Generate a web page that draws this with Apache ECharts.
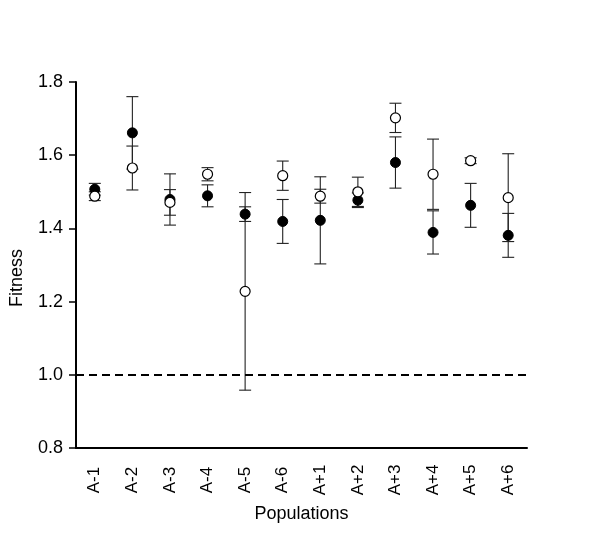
<!DOCTYPE html>
<html><head><meta charset="utf-8">
<script src="https://cdn.jsdelivr.net/npm/echarts@6/dist/echarts.min.js"></script>
<style>html,body{margin:0;padding:0;background:#fff}#c{width:600px;height:547px}</style>
</head><body><div id="c"></div>
<script>
const categories = ['A-1','A-2','A-3','A-4','A-5','A-6','A+1','A+2','A+3','A+4','A+5','A+6'];
const filledMean = [1.507,1.661,1.479,1.489,1.439,1.419,1.422,1.477,1.580,1.389,1.463,1.381];
const filledErr  = [0.016,0.099,0.070,0.030,0.020,0.060,0.119,0.020,0.070,0.059,0.060,0.060];
const openMean   = [1.488,1.565,1.471,1.548,1.228,1.544,1.488,1.500,1.702,1.548,1.585,1.484];
const openErr    = [0.012,0.060,0.035,0.018,0.270,0.040,0.019,0.040,0.040,0.096,0.008,0.120];
const yTicks = [0.8,1.0,1.2,1.4,1.6,1.8];
const refValue = 1.0;

const font = 'Liberation Sans, Arial, Helvetica, sans-serif';
function errData(mean, err){ return mean.map((m,i)=>[i,m,err[i]]); }
function renderErr(params, api){
  const i = api.value(0), m = api.value(1), e = api.value(2);
  const top = api.coord([i, m+e]);
  const bot = api.coord([i, m-e]);
  const hw = 6;
  const st = {stroke:'#222', lineWidth:1.1};
  return {type:'group', children:[
    {type:'line', shape:{x1:top[0],y1:top[1],x2:bot[0],y2:bot[1]}, style:st},
    {type:'line', shape:{x1:top[0]-hw,y1:top[1],x2:top[0]+hw,y2:top[1]}, style:st},
    {type:'line', shape:{x1:bot[0]-hw,y1:bot[1],x2:bot[0]+hw,y2:bot[1]}, style:st}
  ]};
}
const chart = echarts.init(document.getElementById('c'), null, {renderer:'canvas'});
chart.setOption({
  animation:false,
  backgroundColor:'#fff',
  grid:{left:72, right:73, top:82, bottom:99, containLabel:false},
  xAxis:{
    type:'category', data:categories, boundaryGap:true,
    name:'Populations', nameLocation:'middle', nameGap:57,
    nameTextStyle:{fontFamily:font, fontSize:18, color:'#000'},
    axisLine:{lineStyle:{color:'#000', width:2}},
    axisTick:{alignWithLabel:true, length:8, lineStyle:{color:'#000', width:2}},
    axisLabel:{rotate:90, align:'center', verticalAlign:'middle', fontFamily:font, fontSize:17, color:'#000', margin:32},
    splitLine:{show:false}
  },
  yAxis:{
    type:'value', min:yTicks[0], max:yTicks[yTicks.length-1], interval:0.2,
    name:'Fitness', nameLocation:'middle', nameGap:50, nameRotate:90,
    nameTextStyle:{fontFamily:font, fontSize:18, color:'#000', padding:[0,26,0,0]},
    axisLine:{show:true, lineStyle:{color:'#000', width:2}},
    axisTick:{show:true, length:7, lineStyle:{color:'#000', width:1.5}},
    axisLabel:{fontFamily:font, fontSize:18, color:'#000', margin:13, formatter:v=>v.toFixed(1)},
    splitLine:{show:false}
  },
  series:[
    {type:'custom', renderItem:renderErr, data:errData(filledMean, filledErr), z:1, silent:true},
    {type:'custom', renderItem:renderErr, data:errData(openMean, openErr), z:1, silent:true,
     markLine:{silent:true, symbol:'none', label:{show:false},
       lineStyle:{color:'#000', width:2, type:[8,5]}, data:[{yAxis:refValue}]}},
    {type:'scatter', data:filledMean.map((v,i)=>[i,v]), symbol:'circle', symbolSize:10, z:3,
     itemStyle:{color:'#000', borderColor:'#000', borderWidth:1, opacity:1}},
    {type:'scatter', data:openMean.map((v,i)=>[i,v]), symbol:'circle', symbolSize:10, z:4,
     itemStyle:{color:'#fff', borderColor:'#000', borderWidth:1.2, opacity:1}}
  ]
});
</script></body></html>
